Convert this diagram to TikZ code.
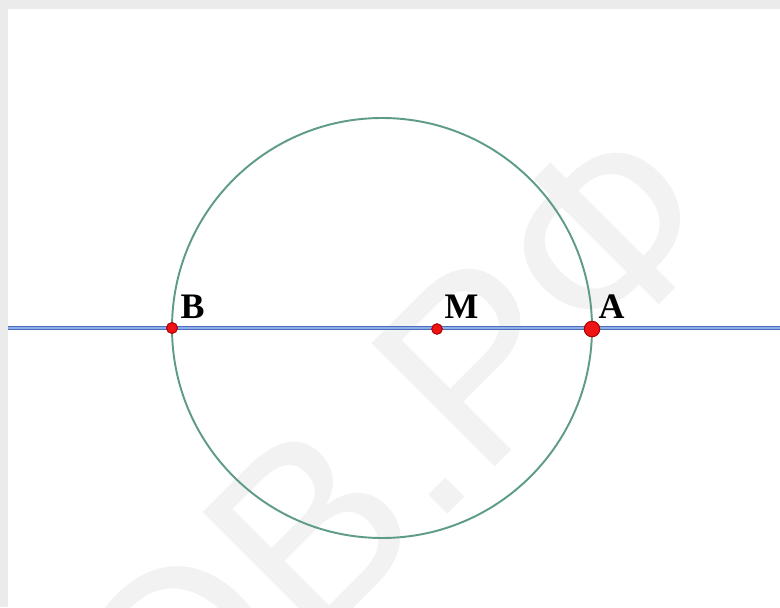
\documentclass[tikz,border=0pt]{standalone}
\usepackage{fontspec}
\setmainfont{Liberation Serif}
\newfontfamily\wmfont{Liberation Sans}
\definecolor{frame}{HTML}{EBEBEB}
\definecolor{wm}{HTML}{F2F2F2}
\definecolor{circ}{HTML}{5E9C86}
\definecolor{lineblue}{HTML}{4A6EC0}
\definecolor{lineinner}{HTML}{8FAEE3}
\definecolor{ptred}{HTML}{EE1414}
\definecolor{ptedge}{HTML}{B00000}
\begin{document}
\begin{tikzpicture}[x=0.01cm,y=-0.01cm,
  pt/.style={circle,fill=ptred,draw=ptedge,line width=0.3pt,inner sep=0pt},
  lbl/.style={font=\bfseries\fontsize{10.2}{10}\selectfont,inner sep=0pt,anchor=base west}]
\useasboundingbox (0,0) rectangle (780,607);
\fill[frame] (0,0) rectangle (780,607);
\fill[white] (8,9) rectangle (780,607);
\begin{scope}
\clip (8,9) rectangle (780,607);
\node[wm,font=\wmfont\fontsize{72}{72}\selectfont,rotate=45,anchor=base west,inner sep=0pt] (wmark) at (172,790) {ОВ.РФ};
\end{scope}
\coordinate (O) at (382,328);
\draw[circ,line width=0.55pt] (O) circle [radius=210];
\coordinate (L) at (8,328);
\coordinate (R) at (780,328);
\draw[lineblue,line width=1.3pt] (L) -- (R);
\draw[lineinner,line width=0.3pt] (L) -- (R);
\node[pt,minimum size=3.1pt] (B) at (172,328) {};
\node[pt,minimum size=3pt] (M) at (437,329) {};
\node[pt,minimum size=4.4pt] (A) at (592,329) {};
\node[lbl] (lB) at (180,318) {B};
\node[lbl] (lM) at (444,318) {M};
\node[lbl] (lA) at (598,318) {A};
\end{tikzpicture}
\end{document}
